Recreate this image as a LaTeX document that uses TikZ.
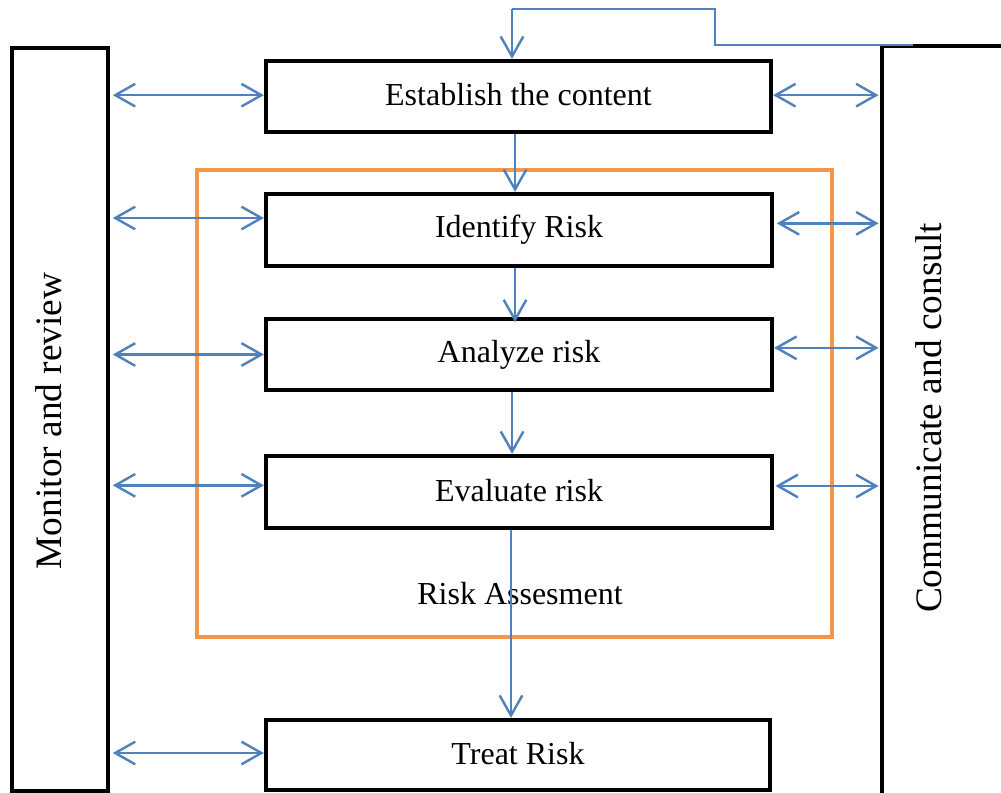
\documentclass[tikz,border=0pt]{standalone}
\usepackage{fontspec}
\setmainfont{Liberation Serif}
\usetikzlibrary{arrows.meta}
\definecolor{flowblue}{HTML}{4F81BD}
\definecolor{assessorange}{HTML}{F79646}
\tikzset{
  stepbox/.style={draw=black, line width=3.2pt, fill=white, inner sep=0pt, font=\fontsize{24}{28}\selectfont},
  sidebox/.style={draw=black, line width=3.2pt, fill=white, inner sep=0pt},
  sidetext/.style={rotate=90, inner sep=0pt, font=\fontsize{28}{32}\selectfont},
  assessbox/.style={draw=assessorange, line width=2.6pt, inner sep=0pt},
  tip/.tip={Straight Barb[length=15pt,width=17pt]},
  flow/.style={draw=flowblue, line width=1.8pt, -tip},
  biflow/.style={draw=flowblue, line width=1.8pt, tip-tip},
}
\begin{document}
\begin{tikzpicture}[x=0.75pt,y=-0.75pt]
\clip (0,0) rectangle (1001,793);
\fill[white] (0,0) rectangle (1001,793);

% side boxes
\node[sidebox, minimum width=72pt, minimum height=557.25pt] (monitor) at (60,419.5) {};
\node[sidetext] (monitortxt) at (49,421) {Monitor and review};
\node[sidebox, minimum width=105pt, minimum height=585pt] (consult) at (952,436) {};
\node[sidetext] (consulttxt) at (929,418) {Communicate and consult};

% risk assessment frame
\node[assessbox, minimum width=476.25pt, minimum height=350.25pt] (assess) at (514.5,403.5) {};
\node[inner sep=0pt, font=\fontsize{24}{28}\selectfont] (assesstxt) at (520,594) {Risk Assesment};

% steps
\node[stepbox, minimum width=378.75pt, minimum height=53.25pt] (establish) at (518.5,96.5) {\raisebox{3.5pt}{Establish the content}};
\node[stepbox, minimum width=379.5pt, minimum height=54pt] (identify) at (519,230) {\raisebox{3pt}{Identify Risk}};
\node[stepbox, minimum width=379.5pt, minimum height=53.25pt] (analyze) at (519,354.5) {\raisebox{3pt}{Analyze risk}};
\node[stepbox, minimum width=379.5pt, minimum height=54pt] (evaluate) at (519,492) {\raisebox{3pt}{Evaluate risk}};
\node[stepbox, minimum width=378pt, minimum height=52.5pt] (treat) at (518,755) {\raisebox{2.5pt}{Treat Risk}};

% feedback loop
\coordinate (fbstart) at (913,45);
\coordinate (fbmid1) at (715,45);
\coordinate (fbmid2) at (715,9);
\coordinate (fbtop) at (512,9);
\draw[flowblue, line width=1.8pt] (fbstart) -- (fbmid1) -- (fbmid2) -- (fbtop);
\draw[flow] (fbtop) -- (fbtop |- establish.north);

% vertical flow
\coordinate (s1) at ([xshift=-2.6pt]establish.south);
\coordinate (s2) at ([xshift=-3pt]identify.south);
\coordinate (s3) at ([xshift=-5.2pt]analyze.south);
\coordinate (s4) at ([xshift=-6pt]evaluate.south);
\draw[flow] (s1) -- (s1 |- identify.north);
\draw[flow] (s2) -- ([yshift=-4pt]s2 |- analyze.north);
\draw[flow] (s3) -- (s3 |- evaluate.north);
\draw[flow] (s4) -- (s4 |- treat.north);

% link end points
\coordinate (eL) at ([yshift=1pt]establish.west);
\coordinate (iL) at ([yshift=9pt]identify.west);
\coordinate (aL) at (analyze.west);
\coordinate (vL) at ([yshift=5pt]evaluate.west);
\coordinate (tL) at ([yshift=1.5pt]treat.west);
\coordinate (mE) at ([xshift=2pt]monitor.east);
\coordinate (eR) at ([yshift=1pt]establish.east);
\coordinate (iR) at ([xshift=2pt,yshift=5pt]identify.east);
\coordinate (aR) at ([yshift=5pt]analyze.east);
\coordinate (vR) at ([xshift=1pt,yshift=4.5pt]evaluate.east);
\coordinate (cW) at ([xshift=-1pt]consult.west);

% left links
\draw[biflow] (mE |- eL) -- (eL);
\draw[biflow] (mE |- iL) -- (iL);
\draw[biflow] (mE |- aL) -- (aL);
\draw[biflow] (mE |- vL) -- (vL);
\draw[biflow] (mE |- tL) -- (tL);

% right links
\draw[biflow] (eR) -- (cW |- eR);
\draw[biflow] (iR) -- (cW |- iR);
\draw[biflow] (aR) -- (cW |- aR);
\draw[biflow] (vR) -- (cW |- vR);
\end{tikzpicture}
\end{document}
